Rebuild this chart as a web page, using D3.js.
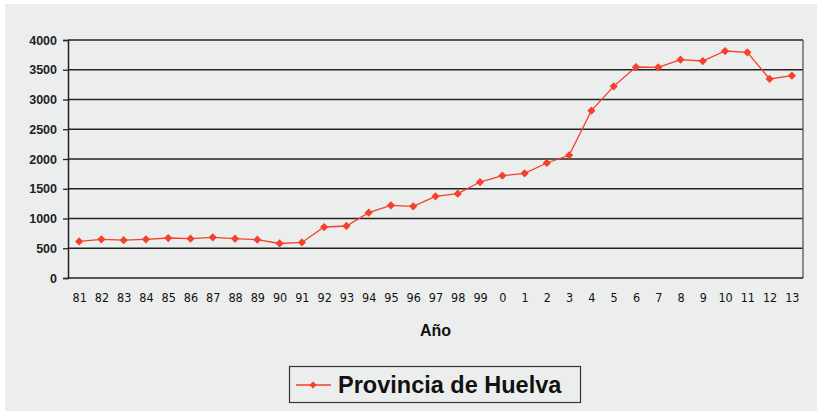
<!DOCTYPE html>
<html>
<head>
<meta charset="utf-8">
<script src="https://cdn.jsdelivr.net/npm/d3@7"></script>
<style>
html,body{margin:0;padding:0;background:#ffffff;}
svg{display:block;}
</style>
</head>
<body>
<svg id="chart" width="817" height="411"></svg>
<script>
const years = ["81","82","83","84","85","86","87","88","89","90","91","92","93","94","95","96","97","98","99","0","1","2","3","4","5","6","7","8","9","10","11","12","13"];
const values = [615,650,635,650,672,661,684,661,644,580,597,857,874,1098,1221,1205,1373,1417,1613,1720,1759,1933,2062,2812,3221,3546,3540,3669,3647,3815,3793,3345,3401];
const yTicks = [0,500,1000,1500,2000,2500,3000,3500,4000];
const seriesName = "Provincia de Huelva";
const xTitle = "Año";

const svg = d3.select("#chart");
const W = 817, H = 411;
const m = {left:68, right:14, top:40, bottom:133};
const color = "#f5402a";

svg.append("rect").attr("x",5).attr("y",4).attr("width",W-5).attr("height",H-4).attr("fill","#eceeed");

const x = d3.scalePoint().domain(years).range([m.left, W-m.right]).padding(0.5);
const y = d3.scaleLinear().domain([0,4000]).range([H-m.bottom, m.top]);

// gridlines
svg.append("g").selectAll("line").data(yTicks.filter(d=>d>0)).join("line")
  .attr("x1",m.left).attr("x2",W-m.right)
  .attr("y1",d=>y(d)).attr("y2",d=>y(d))
  .attr("stroke","#222").attr("stroke-width",1.3);

// right border
svg.append("line").attr("x1",W-m.right).attr("x2",W-m.right).attr("y1",m.top).attr("y2",H-m.bottom)
  .attr("stroke","#555").attr("stroke-width",1.3);

// y axis
const yAxis = svg.append("g").attr("transform",`translate(${m.left},0)`)
  .call(d3.axisLeft(y).tickValues(yTicks).tickFormat(d3.format("d")).tickSize(5).tickPadding(6));
yAxis.select(".domain").attr("stroke","#222").attr("stroke-width",1.5);
yAxis.selectAll(".tick line").attr("stroke","#222").attr("stroke-width",1.3);
yAxis.selectAll("text").attr("font-family","Arial, 'Liberation Sans', sans-serif").attr("font-size","12.5px").attr("font-weight","bold").attr("fill","#222");

// x axis
const xAxis = svg.append("g").attr("transform",`translate(0,${H-m.bottom})`)
  .call(d3.axisBottom(x).tickSize(0).tickPadding(15));
xAxis.select(".domain").attr("d",`M${m.left},0H${W-m.right}`).attr("stroke","#222").attr("stroke-width",1.5);
xAxis.selectAll("text").attr("font-family","'Liberation Sans Narrow', 'DejaVu Sans Condensed', sans-serif").attr("font-size","12.5px").attr("fill","#111");

// line
const line = d3.line().x((d,i)=>x(years[i])).y(d=>y(d));
svg.append("path").datum(values).attr("d",line).attr("fill","none").attr("stroke",color).attr("stroke-width",1.3);

const diamond = d3.symbol().type(d3.symbolSquare).size(34);
svg.append("g").selectAll("path").data(values).join("path")
  .attr("d",diamond)
  .attr("transform",(d,i)=>`translate(${x(years[i])},${y(d)}) rotate(45)`)
  .attr("fill",color);

// x title
svg.append("text").attr("x",(m.left+W-m.right)/2).attr("y",336)
  .attr("text-anchor","middle").attr("font-family","Arial, 'Liberation Sans', sans-serif")
  .attr("font-size","16px").attr("font-weight","bold").attr("fill","#111").text(xTitle);

// legend
const lg = svg.append("g");
lg.append("rect").attr("x",289.5).attr("y",366.5).attr("width",291).attr("height",36)
  .attr("fill","none").attr("stroke","#333").attr("stroke-width",1.2);
lg.append("line").attr("x1",296).attr("x2",331).attr("y1",385).attr("y2",385).attr("stroke",color).attr("stroke-width",1.3);
lg.append("path").attr("d",d3.symbol().type(d3.symbolSquare).size(26)).attr("transform","translate(313,385) rotate(45)").attr("fill",color);
lg.append("text").attr("x",338).attr("y",393).attr("font-family","Arial, 'Liberation Sans', sans-serif")
  .attr("font-size","23.5px").attr("font-weight","bold").attr("fill","#111").text(seriesName);
</script>
</body>
</html>
